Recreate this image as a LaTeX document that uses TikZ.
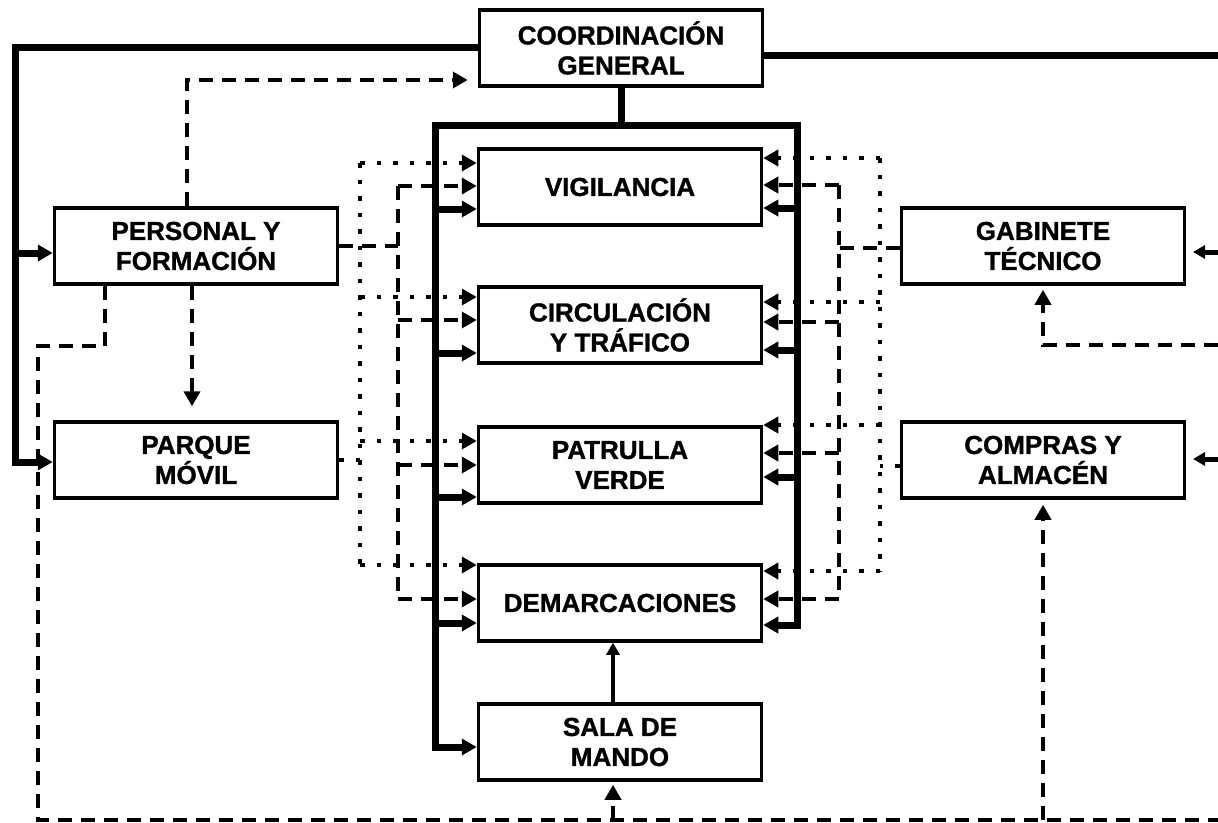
\documentclass[tikz,border=0pt]{standalone}
\usepackage{fontspec}
\setmainfont{Liberation Sans}[BoldFeatures={FakeBold=1.2}]
\usetikzlibrary{arrows.meta}
\begin{document}
\begin{tikzpicture}[x=1pt,y=-1pt,
  box/.style={draw,line width=3.5pt,minimum width=283pt,minimum height=76pt,inner sep=0pt,align=center,font=\fontsize{26}{30}\selectfont\bfseries},
  thk/.style={line width=7pt},
  dsh/.style={line width=4.2pt,dash pattern=on 14pt off 9pt},
  dot/.style={line width=4.5pt,dash pattern=on 4.5pt off 12pt},
  arr/.style={-{Triangle[length=15pt,width=16pt]}},
  arrs/.style={-{Triangle[length=12pt,width=13pt]}}]
\useasboundingbox (0,0) rectangle (1218,822);
% nodes
\node[box] (coord) at (621,48) {COORDINACIÓN\\GENERAL};
\node[box] (pers) at (196,246) {PERSONAL Y\\FORMACIÓN};
\node[box] (parq) at (196,460) {PARQUE\\MÓVIL};
\node[box] (vig) at (620,187) {VIGILANCIA};
\node[box] (circ) at (620,325) {CIRCULACIÓN\\Y TRÁFICO};
\node[box] (patr) at (620,465) {PATRULLA\\VERDE};
\node[box] (dem) at (620,603) {DEMARCACIONES};
\node[box] (sala) at (620,742) {SALA DE\\MANDO};
\node[box] (gab) at (1043,246) {GABINETE\\TÉCNICO};
\node[box] (comp) at (1043,460) {COMPRAS Y\\ALMACÉN};
% coordinates
\coordinate (tl) at (15,47);
\coordinate (tr) at (1218,55);
\coordinate (spL) at (435,125);
\coordinate (spR) at (797,125);
\coordinate (eG) at (1218,252);
\coordinate (eC) at (1218,459);
\coordinate (eD) at (1218,345);
\coordinate (bL) at (38,820);
\coordinate (bR) at (1218,820);
% outer thick lines
\draw[thk,arr,line join=miter] (coord.west |- tl) -- (tl) |- (parq.west |- 0,462);
\draw[thk,arr] (15,253) -- (pers.west |- 0,253);
\draw[thk] (coord.east |- tr) -- (tr);
\draw[line width=5pt,arrs] (eG) -- (1193,252);
\draw[line width=5pt,arrs] (eC) -- (1193,459);
% spine
\draw[thk] (coord.south) -- (coord.south |- spL);
\draw[thk,arr,line join=miter] (spR) -- (spL) -- (spL |- 0,747) -- (sala.west |- 0,747);
\draw[thk,arr,line join=miter] (spL) -- (spR) -- (spR |- 0,625) -- (dem.east |- 0,625);
\draw[thk,arr] (spL |- 0,209) -- (vig.west |- 0,209);
\draw[thk,arr] (spL |- 0,353) -- (circ.west |- 0,353);
\draw[thk,arr] (spL |- 0,497) -- (patr.west |- 0,497);
\draw[thk,arr] (spL |- 0,623) -- (dem.west |- 0,623);
\draw[thk,arr] (spR |- 0,208) -- (vig.east |- 0,208);
\draw[thk,arr] (spR |- 0,350) -- (circ.east |- 0,350);
\draw[thk,arr] (spR |- 0,477) -- (patr.east |- 0,477);
% left dotted bus
\draw[dot] (360,163) -- (360,565);
\draw[dot,arr] (360,163) -- (vig.west |- 0,163);
\draw[dot,arr] (360,297) -- (circ.west |- 0,297);
\draw[dot,arr] (360,441) -- (patr.west |- 0,441);
\draw[dot,arr] (360,565) -- (dem.west |- 0,565);
\draw[dot] (parq.east) -- (360,0 |- parq.east);
% left dashed bus
\draw[dsh] (398,186) -- (398,599);
\draw[dsh,arr] (398,186) -- (vig.west |- 0,186);
\draw[dsh,arr] (398,320) -- (circ.west |- 0,320);
\draw[dsh,arr] (398,465) -- (patr.west |- 0,465);
\draw[dsh,arr] (398,599) -- (dem.west |- 0,599);
\draw[dsh] (pers.east) -- (398,0 |- pers.east);
% right dotted bus
\draw[dot] (880,158) -- (880,571);
\draw[dot,arr] (880,158) -- (vig.east |- 0,158);
\draw[dot,arr] (880,302) -- (circ.east |- 0,302);
\draw[dot,arr] (880,425) -- (patr.east |- 0,425);
\draw[dot,arr] (880,571) -- (dem.east |- 0,571);
\draw[dot] (comp.west |- 0,466) -- (880,466);
% right dashed bus
\draw[dsh] (839,185) -- (839,599);
\draw[dsh,arr] (839,185) -- (vig.east |- 0,185);
\draw[dsh,arr] (839,322) -- (circ.east |- 0,322);
\draw[dsh,arr] (839,453) -- (patr.east |- 0,453);
\draw[dsh,arr] (839,599) -- (dem.east |- 0,599);
\draw[dsh] (gab.west |- 0,248) -- (839,248);
% other dashed links
\draw[dsh,arr] (187,0 |- pers.north) |- ([xshift=-10pt]coord.west |- 0,80);
\draw[dsh,arr,shorten >=14pt] (192,0 |- pers.south) -- (192,0 |- parq.north);
\draw[dsh] (105,0 |- pers.south) |- (38,346) -- (bL) -- (bR);
\draw[dsh,arr,shorten >=3pt] (613,820) -- (613,0 |- sala.south);
\draw[dsh,arr,shorten >=5pt] (1043,820) -- (comp.south);
\draw[dsh,arr,shorten >=4pt] (eD) -| (gab.south);
% sala -> demarcaciones
\draw[line width=3.5pt,arrs] (613,0 |- sala.north) -- (613,0 |- dem.south);
\end{tikzpicture}
\end{document}
